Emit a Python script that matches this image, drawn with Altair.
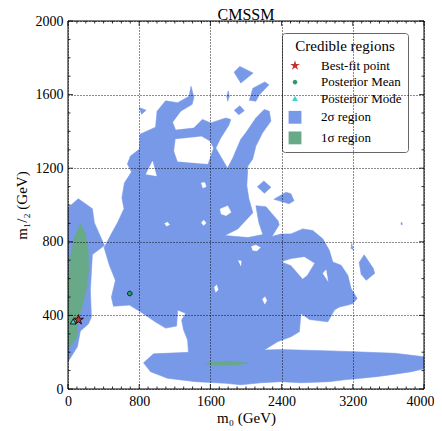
import altair as alt
import pandas as pd

SERIF = "Liberation Serif"
BLUE = "#7898E8"
GREEN = "#68AA88"

# ---- 2-sigma credible region (m0, m1/2 in GeV) ----
main_2s = [(406,769),(477,834),(556,904),(629,980),(606,1039),(634,1120),(713,1180),(668,1223),
           (702,1266),(804,1304),(809,1385),(984,1423),(1001,1510),(1097,1566),(1232,1556),(1361,1591),
           (1382,1645),(1415,1585),(1395,1547),(1266,1510),(1175,1450),(1209,1407),(1412,1418),(1510,1465),
           (1604,1446),(1773,1473),(1829,1465),(1807,1434),(1716,1364),(1660,1310),(1792,1200),(1852,1256),
           (1942,1358),(1998,1392),(2111,1473),(2204,1519),(2261,1510),(2280,1456),(2186,1392),(2111,1320),
           (2074,1249),(2021,1212),(2009,1104),(2032,1034),(2077,958),(1908,870),(1761,834),(2021,823),
           (2190,839),(2145,904),(2111,996),(2224,991),(2359,915),(2373,893),(2291,829),(2393,842),
           (2505,843),(2637,870),(2750,861),(2863,816),(2937,753),(2975,690),(3069,672),(3144,618),
           (3181,546),(3249,492),(3201,465),(3144,456),(3050,446),(2993,429),(2919,365),(2712,378),
           (2618,411),(2599,311),(2505,284),(2355,257),(2186,207),(2190,180),(1356,180),(1344,266),
           (1299,321),(1277,375),(1322,412),(1232,429),(1220,342),(1097,331),(984,364),(804,423),
           (691,456),(511,450),(488,499),(533,591),(465,672)]
band_2s = [(849,142),(961,191),(1435,201),(2393,214),(2956,207),(3294,201),(3672,194),(4000,175),
           (4000,110),(3858,94),(3632,78),(3463,67),(3238,56),(3125,51),(2934,40),(2618,34),
           (2393,40),(2167,34),(1942,23),(1773,31),(1435,40),(1119,58),(928,94)]
strip_2s = [(0,985),(116,1034),(274,980),(296,904),(409,780),(274,731),(251,537),(263,391),
            (229,353),(139,315),(105,229),(0,148)]
islands_2s = [
    [(1866,1722),(1931,1753),(2080,1717),(1942,1663)],
    [(2038,1569),(2077,1634),(2212,1669),(2257,1653),(2145,1596),(2111,1564)],
    [(1784,1591),(1801,1620),(1812,1591),(1795,1564)],
    [(1869,1515),(1931,1539),(1981,1512),(1919,1491)],
    [(804,1529),(877,1515),(826,1493)],
    [(2128,1099),(2201,1131),(2280,1096),(2207,1064)],
    [(2314,1031),(2449,1069),(2505,1061),(2539,1023),(2483,1007),(2393,1020)],
    [(3272,688),(3328,729),(3429,656),(3446,629),(3351,591),(3294,623)],
    [(3181,764),(3187,791),(3204,758)],
    [(3739,896),(3751,907),(3756,893)],
    [(3012,1663),(3046,1669),(3080,1650),(3035,1639)],
    [(3176,1374),(3198,1369),(3198,1310),(3181,1320)],
]
# holes inside the 2-sigma region
holes = [
    [(1209,1358),(1502,1372),(1592,1347),(1632,1310),(1570,1223),(1232,1237),(1192,1293)],
    [(950,1239),(995,1158),(875,1167)],
    [(1497,1120),(1536,1123),(1553,1099),(1514,1093)],
    [(1708,978),(1795,996),(1833,960),(1776,942),(1720,951)],
    [(1085,899),(1119,907),(1142,893),(1108,885)],
    [(1497,904),(1525,918),(1553,902),(1525,888)],
    [(1914,699),(1947,696),(1942,669)],
    [(1643,553),(1671,566),(1688,539),(1660,526)],
    [(2060,775),(2111,783),(2162,769),(2122,750),(2077,753)],
    [(2184,488),(2212,502),(2235,483),(2212,461)],
    [(2404,691),(2505,707),(2655,717),(2768,683),(2686,618),(2637,599),(2505,672)],
    [(2863,629),(2900,648),(2922,585)],
]
# ---- 1-sigma credible region ----
strip_1s = [(0,574),(26,716),(71,824),(139,899),(195,851),(229,754),(234,646),(206,537),
            (161,450),(116,375),(99,283),(48,245),(0,218)]
band_1s = [(1525,139),(1620,147),(1760,151),(1900,149),(2040,140),(1900,131),(1760,128),(1620,131)]

# ---- markers ----
marker_labels = ["Best-fit point", "Posterior Mean", "Posterior Mode"]
marker_m0 = [118, 694, 58]
marker_m12 = [376, 519, 365]

legend_labels = ["Best-fit point", "Posterior Mean", "Posterior Mode", "2σ region", "1σ region"]
legend_fills = ["#C8302E", "#2E9A6A", "#40D0D0", BLUE, GREEN]
STAR = ("M0,-0.8L0.18,-0.247L0.76,-0.247L0.29,0.094L0.47,0.647L0,0.306L-0.47,0.647"
        "L-0.29,0.094L-0.76,-0.247L-0.18,-0.247Z")
CIRCLE = "M-0.36,0A0.36,0.36 0 1,0 0.36,0A0.36,0.36 0 1,0 -0.36,0Z"
TRIANGLE = "M0,-0.45L0.45,0.34L-0.45,0.34Z"
legend_shapes = [STAR, CIRCLE, TRIANGLE, "square", "square"]

title_text = ["CMSSM"]

x_major = [0, 800, 1600, 2400, 3200, 4000]
y_major = [0, 400, 800, 1200, 1600, 2000]
x_minor = [v for v in range(0, 4001, 100) if v not in x_major]
y_minor = [v for v in range(0, 2001, 100) if v not in y_major]

W, H = 356, 368

xs = alt.Scale(domain=[0, 4000], nice=False, zero=False)
ys = alt.Scale(domain=[0, 2000], nice=False, zero=False)
xaxis = alt.Axis(values=x_major, format="d", grid=True, gridDash=[1, 2], gridColor="black",
                 gridOpacity=0.9, ticks=False, domain=False, labelFont=SERIF, labelFontSize=14,
                 labelColor="black", labelPadding=5, labelFlush=False, labelOverlap=False,
                 labelOffset=alt.expr("datum.value == 4000 ? -4 : 0"),
                 title="m₀ (GeV)", titleFont=SERIF, titleFontSize=15, titleFontWeight="normal",
                 titleColor="black", titlePadding=2, zindex=1)
yaxis = alt.Axis(values=y_major, format="d", grid=True, gridDash=[1, 2], gridColor="black",
                 gridOpacity=0.9, ticks=False, domain=False, labelFont=SERIF, labelFontSize=14,
                 labelColor="black", labelPadding=5, labelFlush=False, labelOverlap=False,
                 title="m₁/₂ (GeV)", titleFont=SERIF, titleFontSize=15, titleFontWeight="normal",
                 titleColor="black", titlePadding=6, zindex=1)


def poly_frame(polys):
    rows = []
    for pid, pts in enumerate(polys):
        for i, (x, y) in enumerate(list(pts) + [pts[0]]):
            rows.append({"pid": pid, "i": i, "m0": x, "m12": y})
    return pd.DataFrame(rows)


def poly_layer(polys, color, sw=0.6):
    return alt.Chart(poly_frame(polys)).mark_line(
        fill=color, stroke=color, strokeWidth=sw, clip=True, interpolate="linear"
    ).encode(
        x=alt.X("m0:Q", scale=xs, axis=xaxis),
        y=alt.Y("m12:Q", scale=ys, axis=yaxis),
        detail="pid:N",
        order="i:Q",
    )


blue = poly_layer([main_2s, band_2s, strip_2s] + islands_2s, BLUE)
white = poly_layer(holes, "white", 0.3)
green = poly_layer([strip_1s, band_1s], GREEN, 0.3)

frame_df = pd.DataFrame({"k": [0]})
frame = alt.layer(
    alt.Chart(frame_df).mark_rule(color="black", strokeWidth=1).encode(x=alt.value(0), y=alt.value(0), y2=alt.value(H)),
    alt.Chart(frame_df).mark_rule(color="black", strokeWidth=1).encode(x=alt.value(W), y=alt.value(0), y2=alt.value(H)),
    alt.Chart(frame_df).mark_rule(color="black", strokeWidth=1).encode(y=alt.value(0), x=alt.value(0), x2=alt.value(W)),
    alt.Chart(frame_df).mark_rule(color="black", strokeWidth=1).encode(y=alt.value(H), x=alt.value(0), x2=alt.value(W)),
)


def xticks(vals, ln):
    d = pd.DataFrame({"m0": vals})
    base = alt.Chart(d).mark_rule(color="black", strokeWidth=0.8)
    return alt.layer(
        base.encode(x=alt.X("m0:Q", scale=xs, axis=xaxis), y=alt.value(H), y2=alt.value(H - ln)),
        base.encode(x=alt.X("m0:Q", scale=xs, axis=xaxis), y=alt.value(0), y2=alt.value(ln)),
    )


def yticks(vals, ln):
    d = pd.DataFrame({"m12": vals})
    base = alt.Chart(d).mark_rule(color="black", strokeWidth=0.8)
    return alt.layer(
        base.encode(y=alt.Y("m12:Q", scale=ys, axis=yaxis), x=alt.value(0), x2=alt.value(ln)),
        base.encode(y=alt.Y("m12:Q", scale=ys, axis=yaxis), x=alt.value(W), x2=alt.value(W - ln)),
    )


ticks = alt.layer(xticks(x_major, 5), xticks(x_minor, 2.5), yticks(y_major, 5), yticks(y_minor, 2.5))

title = alt.Chart(pd.DataFrame({"t": title_text})).mark_text(
    font=SERIF, fontSize=16, color="black", baseline="alphabetic", align="center"
).encode(x=alt.value(W / 2), y=alt.value(-1.5), text="t:N")

leg = alt.Legend(title="Credible regions", orient="none", legendX=214, legendY=12, padding=6,
                 fillColor="rgba(255,255,255,0.8)", strokeColor="#666", cornerRadius=3,
                 titleFont=SERIF, titleFontSize=15, titleFontWeight="normal", titleAnchor="middle",
                 titleColor="black", titlePadding=4.5, labelFont=SERIF, labelFontSize=13,
                 labelColor="black", labelOffset=19, rowPadding=2.6, symbolSize=165,
                 symbolStrokeColor="#222", symbolStrokeWidth=0.8, symbolOpacity=1)

mk = pd.DataFrame({"label": marker_labels, "m0": marker_m0, "m12": marker_m12})
markers = alt.Chart(mk).mark_point(filled=True, stroke="black", strokeWidth=0.8, opacity=1, size=165).encode(
    x=alt.X("m0:Q", scale=xs, axis=xaxis),
    y=alt.Y("m12:Q", scale=ys, axis=yaxis),
    fill=alt.Fill("label:N", scale=alt.Scale(domain=legend_labels, range=legend_fills), legend=leg),
    shape=alt.Shape("label:N", scale=alt.Scale(domain=legend_labels, range=legend_shapes), legend=leg),
)

chart = alt.layer(blue, white, green, frame, ticks, markers, title).properties(
    width=W, height=H,
    padding={"left": 60, "top": 13, "right": 10, "bottom": 40},
    autosize=alt.AutoSizeParams(type="none"),
).configure_view(stroke=None)

chart.save("out.html", embed_options={"renderer": "svg", "actions": False})
